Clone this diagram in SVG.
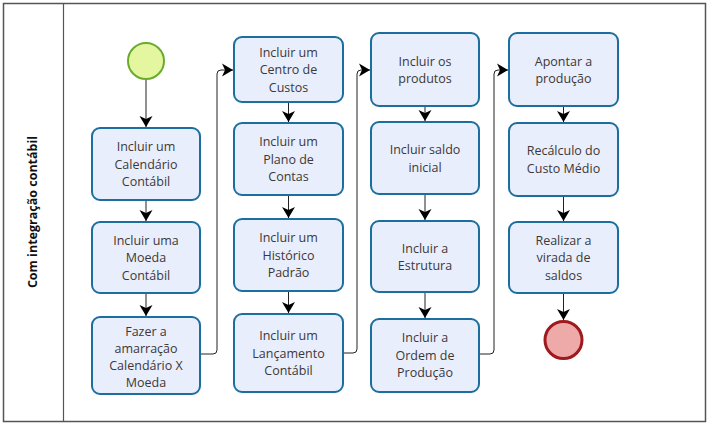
<svg xmlns="http://www.w3.org/2000/svg" width="710" height="426" viewBox="0 0 710 426">
<defs>
<marker id="arr" markerUnits="userSpaceOnUse" markerWidth="14" markerHeight="14" refX="12" refY="7" orient="auto">
<path d="M1,0.5 L12,7 L1,13.5 L4,7 z" fill="#000"/>
</marker>
<style>
.box{fill:#e9eefc;stroke:#1c6e9e;stroke-width:2}
.t{font-family:"Segoe UI","Open Sans","Noto Sans",sans-serif;font-size:12.5px;fill:#3d3838;text-anchor:middle}
.c{fill:none;stroke:#222;stroke-width:1}
.lane{font-family:"Segoe UI","Open Sans","Noto Sans",sans-serif;font-size:12.5px;font-weight:bold;fill:#111;text-anchor:middle}
</style>
</defs>
<rect x="0" y="0" width="710" height="426" fill="#fff"/>
<rect x="3.5" y="3.5" width="702" height="418" fill="#fff" stroke="#555" stroke-width="1.5"/>
<line x1="63.5" y1="3.5" x2="63.5" y2="421.5" stroke="#555" stroke-width="1.2"/>
<text class="lane" transform="translate(37,212) rotate(-90)">Com integração contábil</text>

<g id="connectors">
<path class="c" d="M146,80 V127" marker-end="url(#arr)"/>
<path class="c" d="M146,200 V221" marker-end="url(#arr)"/>
<path class="c" d="M146,293 V316" marker-end="url(#arr)"/>
<path class="c" d="M200,354 H213 Q217,354 217,350 V74 Q217,70 221,70 H233" marker-end="url(#arr)"/>
<path class="c" d="M288.5,102 V122" marker-end="url(#arr)"/>
<path class="c" d="M288.5,195 V218" marker-end="url(#arr)"/>
<path class="c" d="M288.5,291 V313" marker-end="url(#arr)"/>
<path class="c" d="M343,353 H353 Q357,353 357,349 V74 Q357,70 361,70 H370" marker-end="url(#arr)"/>
<path class="c" d="M425,106 V121" marker-end="url(#arr)"/>
<path class="c" d="M425,194 V220" marker-end="url(#arr)"/>
<path class="c" d="M425,292 V318" marker-end="url(#arr)"/>
<path class="c" d="M479,354 H490 Q494,354 494,350 V74 Q494,70 498,70 H508" marker-end="url(#arr)"/>
<path class="c" d="M563.5,106 V122" marker-end="url(#arr)"/>
<path class="c" d="M563.5,196 V221" marker-end="url(#arr)"/>
<path class="c" d="M563.5,293 V320" marker-end="url(#arr)"/>
</g>

<g id="start"><circle cx="146" cy="61" r="18" fill="#e4f7a0" stroke="#6aab2c" stroke-width="2"/></g>

<g id="n1"><rect class="box" x="92" y="128" width="108" height="72" rx="8"/>
<text class="t"><tspan x="146" y="151">Incluir um</tspan><tspan x="146" y="169">Calendário</tspan><tspan x="146" y="186">Contábil</tspan></text></g>
<g id="n2"><rect class="box" x="92" y="222" width="108" height="71" rx="8"/>
<text class="t"><tspan x="146" y="244.5">Incluir uma</tspan><tspan x="146" y="262">Moeda</tspan><tspan x="146" y="279.5">Contábil</tspan></text></g>
<g id="n3"><rect class="box" x="92" y="317" width="108" height="77" rx="8"/>
<text class="t"><tspan x="146" y="335.5">Fazer a</tspan><tspan x="146" y="352.5">amarração</tspan><tspan x="146" y="369.5">Calendário X</tspan><tspan x="146" y="386.5">Moeda</tspan></text></g>

<g id="n4"><rect class="box" x="234" y="37" width="109" height="65" rx="8"/>
<text class="t"><tspan x="288.5" y="56.5">Incluir um</tspan><tspan x="288.5" y="74">Centro de</tspan><tspan x="288.5" y="91.5">Custos</tspan></text></g>
<g id="n5"><rect class="box" x="234" y="123" width="109" height="72" rx="8"/>
<text class="t"><tspan x="288.5" y="146">Incluir um</tspan><tspan x="288.5" y="163.5">Plano de</tspan><tspan x="288.5" y="181">Contas</tspan></text></g>
<g id="n6"><rect class="box" x="234" y="219" width="109" height="72" rx="8"/>
<text class="t"><tspan x="288.5" y="242">Incluir um</tspan><tspan x="288.5" y="259.5">Histórico</tspan><tspan x="288.5" y="277">Padrão</tspan></text></g>
<g id="n7"><rect class="box" x="234" y="314" width="109" height="78" rx="8"/>
<text class="t"><tspan x="288.5" y="340">Incluir um</tspan><tspan x="288.5" y="357.5">Lançamento</tspan><tspan x="288.5" y="375">Contábil</tspan></text></g>

<g id="n8"><rect class="box" x="371" y="33" width="108" height="73" rx="8"/>
<text class="t"><tspan x="425" y="65.5">Incluir os</tspan><tspan x="425" y="83">produtos</tspan></text></g>
<g id="n9"><rect class="box" x="371" y="122" width="108" height="72" rx="8"/>
<text class="t"><tspan x="425" y="154">Incluir saldo</tspan><tspan x="425" y="171.5">inicial</tspan></text></g>
<g id="n10"><rect class="box" x="371" y="221" width="108" height="71" rx="8"/>
<text class="t"><tspan x="425" y="252.5">Incluir a</tspan><tspan x="425" y="270">Estrutura</tspan></text></g>
<g id="n11"><rect class="box" x="371" y="319" width="108" height="73" rx="8"/>
<text class="t"><tspan x="425" y="342">Incluir a</tspan><tspan x="425" y="359.5">Ordem de</tspan><tspan x="425" y="377">Produção</tspan></text></g>

<g id="n12"><rect class="box" x="509" y="33" width="109" height="73" rx="8"/>
<text class="t"><tspan x="563.5" y="65.5">Apontar a</tspan><tspan x="563.5" y="83">produção</tspan></text></g>
<g id="n13"><rect class="box" x="509" y="123" width="109" height="73" rx="8"/>
<text class="t"><tspan x="563.5" y="155">Recálculo do</tspan><tspan x="563.5" y="172.5">Custo Médio</tspan></text></g>
<g id="n14"><rect class="box" x="509" y="222" width="109" height="71" rx="8"/>
<text class="t"><tspan x="563.5" y="244.5">Realizar a</tspan><tspan x="563.5" y="262">virada de</tspan><tspan x="563.5" y="279.5">saldos</tspan></text></g>

<g id="end"><circle cx="563.5" cy="340" r="18.5" fill="#eea9a9" stroke="#9e1a1e" stroke-width="3"/></g>
</svg>
